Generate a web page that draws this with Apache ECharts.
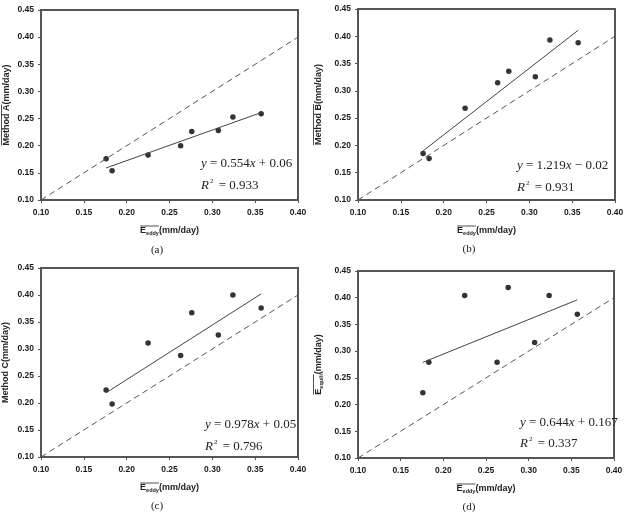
<!DOCTYPE html>
<html>
<head>
<meta charset="utf-8">
<script src="https://cdn.jsdelivr.net/npm/echarts@6/dist/echarts.min.js"></script>
<style>
  html, body { margin: 0; padding: 0; background: #fff; }
  #chart { width: 625px; height: 512px; }
</style>
</head>
<body>
<div id="chart"></div>
<script>
// data
const eddy = [0.176, 0.183, 0.225, 0.263, 0.276, 0.307, 0.324, 0.357];
const methodA = [0.176, 0.154, 0.183, 0.200, 0.226, 0.228, 0.253, 0.259];
const methodB = [0.185, 0.176, 0.268, 0.315, 0.336, 0.326, 0.393, 0.388];
const methodC = [0.224, 0.198, 0.311, 0.288, 0.367, 0.326, 0.400, 0.376];
const equili = [0.222, 0.279, 0.404, 0.279, 0.419, 0.316, 0.404, 0.369];

const fitX = [0.176, 0.357];
const fitA = [0.159, 0.261];
const fitB = [0.190, 0.411];
const fitC = [0.219, 0.402];
const fitD = [0.279, 0.396];
const oneToOne = [0.10, 0.40];

const captions = ["(a)", "(b)", "(c)", "(d)"];

const sans = '"Liberation Sans", Arial, sans-serif';
const serif = '"Liberation Serif", "Times New Roman", serif';

const panels = [
  { ys: methodA, fit: fitA, left: 41, top: 10, width: 257, height: 190, gap: 29, yName: "Method A", over: true,
    eq: ["y", "=", "0.554", "x", "+", "0.06"], r2: "0.933", eqX: 201, eqY: 165, r2Y: 186, capX: 157, capY: 250 },
  { ys: methodB, fit: fitB, left: 358, top: 9, width: 257, height: 191, gap: 34, yName: "Method B", over: true,
    eq: ["y", "=", "1.219", "x", "\u2212", "0.02"], r2: "0.931", eqX: 517, eqY: 167, r2Y: 188, capX: 469, capY: 249 },
  { ys: methodC, fit: fitC, left: 41, top: 268, width: 257, height: 189, gap: 30, yName: "Method C", over: false,
    eq: ["y", "=", "0.978", "x", "+", "0.05"], r2: "0.796", eqX: 205, eqY: 426, r2Y: 447, capX: 157, capY: 506 },
  { ys: equili, fit: fitD, left: 358, top: 271, width: 256, height: 187, gap: 34, yName: null, over: true,
    eq: ["y", "=", "0.644", "x", "+", "0.167"], r2: "0.337", eqX: 520, eqY: 424, r2Y: 444, capX: 469, capY: 507 }
];

const ctx = document.createElement("canvas").getContext("2d");
function textW(str, size) {
  ctx.font = "bold " + size + "px " + sans;
  return ctx.measureText(str).width;
}

const axisColor = "#555";
const richName = {
  b: { fontSize: 9, fontWeight: "bold", fontFamily: sans, color: "#222", lineHeight: 11 },
  s: { fontSize: 5.5, fontWeight: "bold", fontFamily: sans, color: "#222", lineHeight: 6, verticalAlign: "bottom" }
};

const grid = [], xAxis = [], yAxis = [], series = [], graphic = [];

panels.forEach((p, i) => {
  grid.push({ left: p.left, top: p.top, width: p.width, height: p.height, show: true,
    borderColor: axisColor, borderWidth: 2, outerBoundsMode: "none" });

  xAxis.push({
    gridIndex: i, type: "value", min: 0.10, max: 0.40, interval: 0.05,
    name: "{b|E}{s|eddy}{b|(mm/day)}", nameLocation: "middle", nameGap: 25,
    nameTextStyle: { rich: richName },
    axisLine: { lineStyle: { color: axisColor, width: 2 } },
    axisTick: { show: true, inside: false, length: 3, lineStyle: { color: axisColor } },
    axisLabel: { formatter: v => v.toFixed(2), fontSize: 8.5, fontWeight: "bold", fontFamily: sans, color: "#1a1a1a", margin: 8 },
    splitLine: { show: false }
  });

  yAxis.push({
    gridIndex: i, type: "value", min: 0.10, max: 0.45, interval: 0.05,
    name: p.yName ? "{b|" + p.yName + "(mm/day)}" : "{b|E}{s|equili}{b|(mm/day)}",
    nameLocation: "middle", nameGap: p.gap,
    nameTextStyle: { rich: richName },
    axisLine: { lineStyle: { color: axisColor, width: 2 } },
    axisTick: { show: true, inside: false, length: 3, lineStyle: { color: axisColor } },
    axisLabel: { formatter: v => v.toFixed(2), fontSize: 8.5, fontWeight: "bold", fontFamily: sans, color: "#1a1a1a", margin: 7 },
    splitLine: { show: false }
  });

  series.push({
    type: "line", xAxisIndex: i, yAxisIndex: i, silent: true, symbol: "none",
    data: oneToOne.map(v => [v, v]),
    lineStyle: { color: "#555", width: 1, type: [6, 4] }
  });
  series.push({
    type: "line", xAxisIndex: i, yAxisIndex: i, silent: true, symbol: "none",
    data: fitX.map((x, k) => [x, p.fit[k]]),
    lineStyle: { color: "#444", width: 1 }
  });
  series.push({
    type: "scatter", xAxisIndex: i, yAxisIndex: i, silent: true, symbolSize: 5.5,
    data: eddy.map((x, k) => [x, p.ys[k]]),
    itemStyle: { color: "#000" }
  });

  // overline on the x-axis name (E_eddy)
  const xW = textW("E", 9) + textW("eddy", 5.5) + textW("(mm/day)", 9);
  const xBar = textW("E", 9) + textW("eddy", 5.5);
  const xl = p.left + p.width / 2 - xW / 2;
  const xy = p.top + p.height + 25 + 1;
  graphic.push({ type: "line", silent: true, shape: { x1: xl, y1: xy, x2: xl + xBar, y2: xy },
    style: { stroke: "#222", lineWidth: 0.8 } });

  // overline on the y-axis name
  if (p.over) {
    let yW, yBar;
    if (p.yName) {
      yW = textW(p.yName + "(mm/day)", 9);
      yBar = textW(p.yName, 9);
    } else {
      yW = textW("E", 9) + textW("equili", 5.5) + textW("(mm/day)", 9);
      yBar = textW("E", 9) + textW("equili", 5.5);
    }
    const cy = p.top + p.height / 2;
    const cx = p.left - p.gap - 5.5;
    const ox = cx - 5;
    graphic.push({ type: "line", silent: true,
      shape: { x1: ox, y1: cy + yW / 2, x2: ox, y2: cy + yW / 2 - yBar },
      style: { stroke: "#222", lineWidth: 0.8 } });
  }

  // regression equation and R^2
  graphic.push({
    type: "text", left: p.eqX, top: p.eqY - 8, silent: true,
    style: {
      text: "{i|" + p.eq[0] + "} " + p.eq[1] + " " + p.eq[2] + "{i|" + p.eq[3] + "} " + p.eq[4] + " " + p.eq[5],
      font: "13px " + serif, fill: "#222",
      rich: { i: { fontStyle: "italic", fontSize: 13, fontFamily: serif } }
    }
  });
  graphic.push({
    type: "text", left: p.eqX, top: p.r2Y - 8, silent: true,
    style: {
      text: "{i|R}{sup|2} = " + p.r2,
      font: "13px " + serif, fill: "#222",
      rich: {
        i: { fontStyle: "italic", fontSize: 13, fontFamily: serif, lineHeight: 15 },
        sup: { fontSize: 7, fontFamily: serif, verticalAlign: "top", lineHeight: 7, padding: [0, 2, 0, 1] }
      }
    }
  });

  graphic.push({
    type: "text", silent: true, x: p.capX, y: p.capY,
    style: { text: captions[i], font: "11px " + serif, fill: "#222", textAlign: "center", textVerticalAlign: "middle" }
  });
});

const chart = echarts.init(document.getElementById("chart"));
chart.setOption({
  backgroundColor: "#fff",
  animation: false,
  grid: grid,
  xAxis: xAxis,
  yAxis: yAxis,
  series: series,
  graphic: graphic
});
</script>
</body>
</html>
